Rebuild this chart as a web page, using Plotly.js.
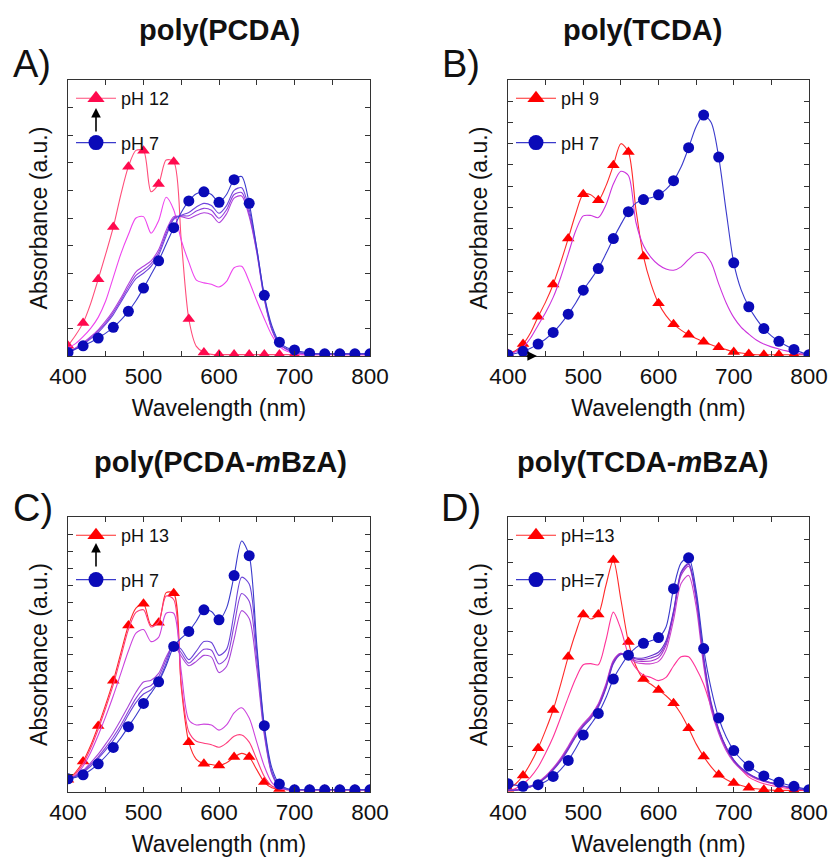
<!DOCTYPE html>
<html><head><meta charset="utf-8">
<script src="https://cdn.plot.ly/plotly-3.0.1.min.js"></script>
<style>html,body{margin:0;padding:0;background:#fff}#chart{width:830px;height:860px}</style>
</head><body><div id="chart"></div>
<script>
// Wavelength grid (nm)
const WL = [400,410,420,430,440,450,460,470,480,490,500,510,520,530,540,550,560,570,580,590,600,
            610,620,630,640,650,660,670,680,690,700,710,720,730,740,750,760,770,780,790,800];

// ---- Panel A: poly(PCDA), absorbance (a.u.) ----
const A_pH12 = [0.37,0.75,1.2,1.9,2.78,3.7,4.67,5.85,6.86,7.45,7.44,5.95,6.23,7.1,7.04,4.2,1.34,0.35,0.13,0.06,0.05,
                0.05,0.05,0.05,0.05,0.05,0.05,0.05,0.05,0.05,0.05,0.05,0.05,0.05,0.05,0.05,0.05,0.05,0.05,0.05,0.05];
const A_mid4 = [0.3,0.45,0.7,1.0,1.4,2.0,2.85,3.7,4.4,5.0,5.05,4.45,4.9,5.75,5.3,4.2,3.4,2.75,2.65,2.6,2.5,
                2.7,3.2,3.25,2.7,2.0,1.35,0.75,0.35,0.17,0.1,0.05,0.05,0.05,0.05,0.05,0.05,0.05,0.05,0.05,0.05];
const A_mid3 = [0.14,0.29,0.48,0.7,0.95,1.27,1.65,2.1,2.6,3.05,3.25,3.45,3.85,4.55,5.05,5.05,4.98,5.1,5.19,5.12,4.83,
                5.15,5.72,5.8,5.05,3.75,2.05,0.95,0.42,0.23,0.14,0.1,0.07,0.07,0.07,0.07,0.07,0.07,0.07,0.07,0.07];
const A_mid2 = [0.13,0.27,0.45,0.66,0.9,1.2,1.58,2.02,2.5,2.92,3.12,3.35,3.75,4.45,5.0,5.08,5.08,5.25,5.35,5.28,4.99,
                5.3,5.85,5.92,5.15,3.8,2.1,0.98,0.43,0.24,0.14,0.1,0.07,0.07,0.07,0.07,0.07,0.07,0.07,0.07,0.07];
const A_mid1 = [0.12,0.25,0.42,0.62,0.85,1.15,1.5,1.95,2.4,2.8,3.0,3.25,3.65,4.35,4.95,5.1,5.2,5.4,5.53,5.45,5.17,
                5.45,6.0,6.1,5.3,3.9,2.15,1.0,0.45,0.25,0.15,0.1,0.07,0.07,0.07,0.07,0.07,0.07,0.07,0.07,0.07];
const A_pH7  = [0.13,0.25,0.37,0.5,0.65,0.83,1.04,1.3,1.62,2.0,2.46,2.95,3.45,4.05,4.65,5.2,5.62,5.88,5.95,5.85,5.57,
                5.85,6.39,6.5,5.53,3.9,2.2,1.1,0.5,0.3,0.22,0.15,0.1,0.08,0.08,0.08,0.08,0.08,0.08,0.08,0.08];

// ---- Panel B: poly(TCDA) ----
const B_pH9  = [0.1,0.25,0.56,1.1,1.85,2.55,3.37,4.4,5.53,6.7,7.62,7.6,7.34,8.0,8.98,10.0,9.61,6.9,4.69,3.4,2.48,
                1.9,1.5,1.22,1.0,0.82,0.67,0.53,0.41,0.3,0.19,0.14,0.1,0.06,0.06,0.06,0.06,0.06,0.06,0.06,0.06];
const B_mid  = [0.05,0.2,0.42,0.85,1.45,2.05,2.76,3.7,4.8,5.9,6.6,6.62,6.52,7.1,8.1,8.7,8.5,6.3,5.2,4.65,4.3,
                4.1,4.04,4.2,4.55,4.85,4.85,4.4,3.4,2.5,1.82,1.35,1.03,0.75,0.56,0.43,0.33,0.24,0.17,0.1,0.06];
const B_pH7  = [0.06,0.12,0.22,0.37,0.56,0.8,1.11,1.5,1.97,2.5,3.1,3.6,4.12,4.8,5.53,6.2,6.8,7.2,7.37,7.45,7.59,
                7.85,8.26,8.9,9.81,10.8,11.35,11.0,9.37,6.8,4.39,3.1,2.32,1.75,1.29,0.95,0.69,0.48,0.31,0.17,0.06];

// ---- Panel C: poly(PCDA-mBzA) ----
const C_pH13 = [0.71,1.15,1.78,2.7,3.84,5.1,6.47,8.1,9.69,10.7,10.95,9.7,9.85,11.6,11.56,6.1,2.9,1.9,1.64,1.6,1.54,
                1.7,2.03,2.25,2.03,1.3,0.58,0.25,0.17,0.14,0.13,0.13,0.13,0.13,0.13,0.13,0.13,0.13,0.13,0.13,0.13];
const C_mid5 = [0.65,1.05,1.65,2.55,3.65,4.9,6.25,7.85,9.45,10.45,10.6,9.6,9.9,11.4,11.2,6.3,3.5,2.95,2.84,2.75,2.6,
                2.85,3.25,3.32,2.9,1.9,0.9,0.35,0.18,0.14,0.13,0.13,0.13,0.13,0.13,0.13,0.13,0.13,0.13,0.13,0.13];
const C_mid4 = [0.6,0.95,1.5,2.3,3.3,4.4,5.6,6.9,8.2,9.25,9.45,8.75,9.0,10.4,10.4,7.0,4.2,3.9,3.95,3.9,3.6,
                3.9,4.6,4.9,4.3,2.9,1.5,0.55,0.2,0.14,0.13,0.13,0.13,0.13,0.13,0.13,0.13,0.13,0.13,0.13,0.13];
const C_mid3 = [0.75,0.95,1.25,1.7,2.2,2.8,3.45,4.2,5.0,5.8,6.4,6.5,6.9,7.85,8.55,7.9,7.35,7.6,7.95,7.85,6.95,
                7.3,8.9,10.55,10.1,7.2,3.3,1.05,0.3,0.15,0.13,0.13,0.13,0.13,0.13,0.13,0.13,0.13,0.13,0.13,0.13];
const C_mid2 = [0.75,0.92,1.2,1.6,2.05,2.6,3.2,3.9,4.7,5.45,6.0,6.2,6.7,7.7,8.6,8.1,7.5,7.9,8.3,8.25,7.45,
                7.8,9.7,11.55,11.1,7.7,3.5,1.1,0.33,0.15,0.13,0.13,0.13,0.13,0.13,0.13,0.13,0.13,0.13,0.13,0.13];
const C_mid1 = [0.75,0.9,1.15,1.5,1.95,2.45,3.0,3.7,4.5,5.2,5.7,5.95,6.5,7.5,8.6,8.3,7.7,8.2,8.75,8.7,7.95,
                8.3,10.4,12.5,12.1,8.2,3.7,1.2,0.35,0.16,0.13,0.13,0.13,0.13,0.13,0.13,0.13,0.13,0.13,0.13,0.13];
const C_pH7  = [0.77,0.85,1.0,1.28,1.64,2.08,2.59,3.15,3.8,4.45,5.15,5.75,6.41,7.35,8.47,8.95,9.34,9.95,10.6,10.5,10.02,
                10.7,12.59,14.6,13.75,8.6,3.86,1.4,0.46,0.2,0.13,0.13,0.13,0.13,0.13,0.13,0.13,0.13,0.13,0.13,0.13];

// ---- Panel D: poly(TCDA-mBzA) ----
const D_pH13 = [0.14,0.35,0.72,1.25,1.91,2.7,3.58,4.7,5.9,6.95,7.75,7.55,7.75,9.0,10.12,8.4,6.55,5.5,4.93,4.7,4.45,
                4.2,3.87,3.4,2.78,2.1,1.55,1.1,0.75,0.55,0.39,0.28,0.19,0.14,0.1,0.08,0.07,0.07,0.07,0.07,0.07];
const D_mid5 = [0.05,0.15,0.35,0.65,1.09,1.7,2.4,3.25,4.13,4.95,5.55,5.6,5.55,6.6,7.85,7.1,6.0,5.4,5.1,5.0,4.86,
                5.0,5.5,5.9,5.9,5.4,4.7,3.7,2.68,1.95,1.38,0.98,0.65,0.48,0.36,0.28,0.22,0.16,0.12,0.09,0.07];
const D_mid4 = [0.08,0.08,0.14,0.26,0.44,0.7,1.05,1.48,2.0,2.55,2.98,3.35,3.85,4.7,5.75,6.05,5.85,5.65,5.6,5.6,5.7,
                6.2,7.5,9.1,9.45,8.1,5.5,3.6,2.55,1.8,1.3,0.97,0.74,0.57,0.46,0.37,0.28,0.21,0.16,0.11,0.08];
const D_mid3 = [0.08,0.08,0.13,0.24,0.42,0.67,1.01,1.43,1.94,2.49,2.93,3.3,3.8,4.63,5.7,6.05,5.9,5.72,5.7,5.72,5.85,
                6.4,7.75,9.45,9.85,8.4,5.7,3.75,2.65,1.88,1.35,1.01,0.77,0.6,0.48,0.39,0.29,0.22,0.17,0.12,0.09];
const D_mid2 = [0.08,0.08,0.12,0.23,0.4,0.64,0.98,1.39,1.9,2.44,2.89,3.25,3.75,4.56,5.65,6.03,5.93,5.8,5.78,5.85,5.98,
                6.5,7.85,9.55,9.93,8.5,5.8,3.82,2.7,1.92,1.38,1.03,0.79,0.61,0.49,0.4,0.3,0.23,0.17,0.12,0.09];
const D_mid1 = [0.08,0.08,0.12,0.22,0.38,0.62,0.95,1.35,1.85,2.4,2.85,3.2,3.7,4.5,5.6,6.0,5.95,5.85,5.85,5.95,6.1,
                6.6,7.9,9.6,9.98,8.6,5.9,3.9,2.75,1.95,1.4,1.05,0.8,0.62,0.5,0.4,0.3,0.23,0.17,0.12,0.09];
const D_pH7  = [0.36,0.3,0.25,0.26,0.32,0.46,0.68,0.98,1.38,1.9,2.49,2.95,3.43,4.1,4.93,5.5,5.97,6.3,6.49,6.6,6.74,
                7.2,8.87,10.0,10.22,8.8,6.26,4.5,3.23,2.4,1.81,1.42,1.13,0.9,0.7,0.55,0.43,0.33,0.25,0.17,0.1];

// Legend labels
const A_labels = ['pH 12','pH 7'];
const B_labels = ['pH 9','pH 7'];
const C_labels = ['pH 13','pH 7'];
const D_labels = ['pH=13','pH=7'];

// Tick labels
const X_TICKVALS = [400,450,500,550,600,650,700,750,800];
const X_TICKTEXT = ['400','','500','','600','','700','','800'];

const FONT = 'Liberation Sans, Arial, Helvetica, sans-serif';
const traces = [];
const markIdx = WL.map((w,i)=> (w % 20 === 0) ? i : -1).filter(i => i >= 0);

function curve(ys, color, ax){
  traces.push({x: WL, y: ys, type:'scatter', mode:'lines', xaxis:'x'+ax, yaxis:'y'+ax,
    line:{color: color, width:1.1, shape:'spline', smoothing:0.8}, showlegend:false, hoverinfo:'skip'});
}
function marked(ys, lineColor, mColor, symbol, size, ax){
  curve(ys, lineColor, ax);
  traces.push({x: markIdx.map(i=>WL[i]), y: markIdx.map(i=>ys[i]), type:'scatter', mode:'markers',
    xaxis:'x'+ax, yaxis:'y'+ax, marker:{color:mColor, symbol:symbol, size:size, line:{width:0}},
    showlegend:false, hoverinfo:'skip'});
}
function legendItem(name, lineColor, mColor, symbol, size, ax, leg, grp){
  traces.push({x:[null], y:[null], type:'scatter', mode:'lines+markers', name:name,
    xaxis:'x'+ax, yaxis:'y'+ax, legend: leg, legendgroup: grp,
    line:{color:lineColor, width:1.1}, marker:{color:mColor, symbol:symbol, size:size}});
}

// Panel A
marked(A_pH12, '#ff4d7a', '#ff0a4e', 'triangle-up', 11, '');
curve(A_mid4, '#ee44ee', '');
curve(A_mid3, '#b040dc', '');
curve(A_mid2, '#9040dc', '');
curve(A_mid1, '#7044dc', '');
marked(A_pH7, '#3a3acc', '#0a0ab8', 'circle', 11, '');
legendItem(A_labels[0], '#ff4d7a', '#ff0a4e', 'triangle-up', 15, '', 'legend', 'a1');
legendItem(A_labels[1], '#3a3acc', '#0a0ab8', 'circle', 15, '', 'legend', 'a2');

// Panel B
marked(B_pH9, '#ff2a2a', '#ff0000', 'triangle-up', 11, '2');
curve(B_mid, '#cc33dd', '2');
marked(B_pH7, '#3a3acc', '#0a0ab8', 'circle', 11, '2');
legendItem(B_labels[0], '#ff2a2a', '#ff0000', 'triangle-up', 15, '2', 'legend2', 'b1');
legendItem(B_labels[1], '#3a3acc', '#0a0ab8', 'circle', 15, '2', 'legend2', 'b2');

// Panel C
marked(C_pH13, '#ff2a2a', '#ff0000', 'triangle-up', 11, '3');
curve(C_mid5, '#ff3a7a', '3');
curve(C_mid4, '#cc44dd', '3');
curve(C_mid3, '#a844d8', '3');
curve(C_mid2, '#8844d8', '3');
curve(C_mid1, '#6a44d8', '3');
marked(C_pH7, '#3a3acc', '#0a0ab8', 'circle', 11, '3');
legendItem(C_labels[0], '#ff2a2a', '#ff0000', 'triangle-up', 15, '3', 'legend3', 'c1');
legendItem(C_labels[1], '#3a3acc', '#0a0ab8', 'circle', 15, '3', 'legend3', 'c2');

// Panel D
marked(D_pH13, '#ff2a2a', '#ff0000', 'triangle-up', 11, '4');
curve(D_mid5, '#ff3399', '4');
curve(D_mid4, '#cc44cc', '4');
curve(D_mid3, '#aa33cc', '4');
curve(D_mid2, '#8833cc', '4');
curve(D_mid1, '#6633cc', '4');
marked(D_pH7, '#3a3acc', '#0a0ab8', 'circle', 11, '4');
legendItem(D_labels[0], '#ff2a2a', '#ff0000', 'triangle-up', 15, '4', 'legend4', 'd1');
legendItem(D_labels[1], '#3a3acc', '#0a0ab8', 'circle', 15, '4', 'legend4', 'd2');

const W = 830, H = 860;
const px = v => v / W, py = v => 1 - v / H;

function xax(dom, anchor){
  return {domain: dom, anchor: anchor, range:[400,800], tickvals: X_TICKVALS, ticktext: X_TICKTEXT,
    ticks:'inside', ticklen:5, tickwidth:1, tickcolor:'#333', mirror:'ticks', showline:true,
    linecolor:'#333', linewidth:1.2, showgrid:false, zeroline:false,
    tickfont:{size:22.5, color:'#111', family:FONT},
    title:{text:'Wavelength (nm)', font:{size:23, color:'#111', family:FONT}, standoff:11}};
}
function yax(dom, anchor, top){
  return {domain: dom, anchor: anchor, range:[0, top], tick0:0, dtick:1, showticklabels:false,
    ticks:'inside', ticklen:5, tickwidth:1, tickcolor:'#333', mirror:'ticks', showline:true,
    linecolor:'#333', linewidth:1.2, showgrid:false, zeroline:false,
    title:{text:'Absorbance (a.u.)', font:{size:23, color:'#111', family:FONT}, standoff:12}};
}
const xA = [px(68), px(370)], xB = [px(508), px(809)];
const yTop = [py(356), py(80)], yBot = [py(792), py(517)];

function legendBox(xp, yp){
  return {x: px(xp), y: py(yp), xanchor:'left', yanchor:'top', bgcolor:'rgba(0,0,0,0)',
    borderwidth:0, font:{size:18, color:'#111', family:FONT}, tracegroupgap:18, itemwidth:40};
}

function ann(text, xp, yp, size, bold){
  return {text: bold ? '<b>'+text+'</b>' : text, x: px(xp), y: py(yp), xref:'paper', yref:'paper',
    showarrow:false, xanchor:'center', yanchor:'middle', font:{size:size, color:'#111', family:FONT}};
}
function arrow(xh, yh, axo, ayo){
  return {x: px(xh), y: py(yh), xref:'paper', yref:'paper', ax: axo, ay: ayo, axref:'pixel', ayref:'pixel',
    showarrow:true, arrowhead:2, arrowsize:1.2, arrowwidth:1.6, arrowcolor:'#000', text:''};
}

const layout = {
  width: W, height: H, margin:{l:0, r:0, t:0, b:0}, paper_bgcolor:'#fff', plot_bgcolor:'#fff',
  font:{family:FONT, color:'#111'},
  xaxis: xax(xA, 'y'), yaxis: yax(yTop, 'x', 10),
  xaxis2: xax(xB, 'y2'), yaxis2: yax(yTop, 'x2', 13),
  xaxis3: xax(xA, 'y3'), yaxis3: yax(yBot, 'x3', 16),
  xaxis4: xax(xB, 'y4'), yaxis4: yax(yBot, 'x4', 12),
  legend: legendBox(71, 80), legend2: legendBox(511, 80),
  legend3: legendBox(71, 517), legend4: legendBox(511, 517),
  annotations: [
    ann('poly(PCDA)', 219, 30, 29, true),
    ann('poly(TCDA)', 642, 30, 29, true),
    ann('poly(PCDA-<i>m</i>BzA)', 220, 462, 29, true),
    ann('poly(TCDA-<i>m</i>BzA)', 642, 462, 29, true),
    ann('A)', 32, 64, 38, false),
    ann('B)', 461, 64, 38, false),
    ann('C)', 33, 508, 38, false),
    ann('D)', 461, 508, 38, false),
    arrow(96, 108, 0, 25),
    arrow(96, 543, 0, 25),
    arrow(537, 356, -12, 0)
  ],
  showlegend: true
};

Plotly.newPlot('chart', traces, layout, {staticPlot:true, displayModeBar:false});
</script>
</body></html>
